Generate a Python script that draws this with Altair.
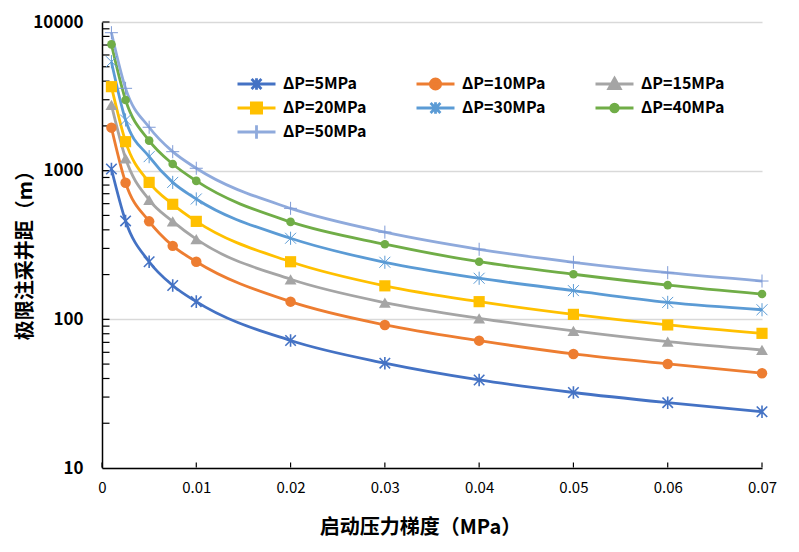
import altair as alt
import pandas as pd

# ---------------- data ----------------
x_vals = [0.001, 0.0025, 0.005, 0.0075, 0.01, 0.02, 0.03, 0.04, 0.05, 0.06, 0.07]
series_names = ["ΔP=5MPa", "ΔP=10MPa", "ΔP=15MPa", "ΔP=20MPa",
                "ΔP=30MPa", "ΔP=40MPa", "ΔP=50MPa"]
dp5 = [1026, 459, 244, 169, 131.5, 72, 50.7, 39.1, 32.2, 27.5, 23.9]
dp10 = [1947, 830, 456, 312, 244, 131.5, 91.7, 71.9, 58.5, 50.1, 43.4]
dp15 = [2770, 1211, 636, 456, 346, 186, 129.6, 101.6, 83.6, 70.8, 62.2]
dp20 = [3673, 1567, 834, 594, 456, 244, 168, 131.5, 108, 91.7, 80.5]
dp30 = [5410, 2193, 1242, 834, 645, 351, 242, 189, 156, 130, 116]
dp40 = [7073, 2988, 1592, 1109, 853, 452, 320, 244, 201, 170, 148]
dp50 = [8474, 3580, 1959, 1342, 1038, 558, 386, 296, 242, 206, 181]
all_series = [dp5, dp10, dp15, dp20, dp30, dp40, dp50]

x_ticks = [0, 0.01, 0.02, 0.03, 0.04, 0.05, 0.06, 0.07]
y_major = [10, 100, 1000, 10000]
y_minor = [20, 30, 40, 50, 60, 70, 80, 90,
           100, 200, 300, 400, 500, 600, 700, 800, 900,
           1000, 2000, 3000, 4000, 5000, 6000, 7000, 8000, 9000, 10000]

x_title = "启动压力梯度（MPa）"
y_title = "极限注采井距（m）"

# ---------------- styles ----------------
colors = ["#4472C4", "#ED7D31", "#A5A5A5", "#FFC000", "#5B9BD5", "#70AD47", "#8FAADC"]
marker_colors = ["#4472C4", "#ED7D31", "#A5A5A5", "#FFC000", "#5B9BD5", "#70AD47", "#7F9BD6"]
STAR = "M-1,-1L1,1M-1,1L1,-1M0,-1.2V1.2"
PLUS = "M-1,0H1M0,-1V1"
# (shape, filled, size, strokeWidth)
marker_specs = [
    (STAR, False, 110, 1.6),
    ("circle", True, 110, 0),
    ("triangle-up", True, 140, 0),
    ("square", True, 125, 0),
    (STAR, False, 120, 1.0),
    ("circle", True, 75, 0),
    (PLUS, False, 170, 1.0),
]
legend_paths = [
    "M-1,0H1M-0.26,-0.26L0.26,0.26M-0.26,0.26L0.26,-0.26M0,-0.3V0.3",
    "M-1,0H1M-0.27,0A0.27,0.27 0 1,0 0.27,0A0.27,0.27 0 1,0 -0.27,0Z",
    "M-1,0H1M0,-0.3L0.3,0.24L-0.3,0.24Z",
    "M-1,0H1M-0.27,-0.27H0.27V0.27H-0.27Z",
    "M-1,0H1M-0.26,-0.26L0.26,0.26M-0.26,0.26L0.26,-0.26M0,-0.3V0.3",
    "M-1,0H1M-0.2,0A0.2,0.2 0 1,0 0.2,0A0.2,0.2 0 1,0 -0.2,0Z",
    "M-1,0H1M0,-0.35V0.35",
]

FONT = "Noto Sans CJK SC"

rows = []
for name, vals in zip(series_names, all_series):
    for xv, v in zip(x_vals, vals):
        rows.append({"series": name, "x": xv, "v": v})
df = pd.DataFrame(rows)
ytick_df = pd.DataFrame({"v": y_minor})
xtick_df = pd.DataFrame({"x": x_ticks})

xscale = alt.Scale(domain=[0, 0.07], nice=False, zero=False)
yscale = alt.Scale(type="log", domain=[10, 10000], nice=False)
color_scale = alt.Scale(domain=series_names, range=colors)

main_x_axis = alt.Axis(
    values=x_ticks, format=".2~f", ticks=False, grid=False,
    domainColor="black", domainWidth=1.5, labelFlush=False, labelOverlap=False,
    labelFont=FONT, labelFontSize=15, labelColor="black", labelPadding=12,
    title=x_title, titleFont=FONT, titleFontSize=20, titleFontWeight="bold",
    titleColor="black", titleX=318, titleY=59, titleBaseline="middle", titleAlign="center",
)
main_y_axis = alt.Axis(
    values=y_major, format="d", ticks=False, grid=True, gridColor="#D9D9D9", gridWidth=1.6,
    domainColor="black", domainWidth=1.5, labelFlush=False, labelOverlap=False,
    labelFont=FONT, labelFontSize=17, labelFontWeight="bold", labelColor="black", labelPadding=19,
    title=y_title, titleFont=FONT, titleFontSize=20, titleFontWeight="bold",
    titleColor="black", titleX=-77, titleY=228, titleAngle=270,
    titleBaseline="middle", titleAlign="center",
)

legend_def = alt.Legend(
    title=None, orient="none", legendX=134, legendY=52, columns=3,
    columnPadding=48, rowPadding=4, clipHeight=20, symbolSize=1444,
    symbolStrokeWidth=2.8, labelFont=FONT, labelFontSize=16, labelFontWeight="bold",
    labelColor="black", labelOffset=6, gridAlign="all", padding=0,
    symbolOpacity=1, labelLimit=300, values=series_names, direction="horizontal",
)

base = alt.Chart(df)

line = base.mark_line(interpolate="monotone", strokeWidth=2.8).encode(
    x=alt.X("x:Q", scale=xscale, axis=main_x_axis),
    y=alt.Y("v:Q", scale=yscale, axis=main_y_axis),
    color=alt.Color("series:N", scale=color_scale, legend=legend_def),
)

# inward tick marks, drawn through the scales and nudged inside the plot
ytick_layer = alt.Chart(ytick_df).mark_tick(
    orient="horizontal", size=7, thickness=1.2, color="black", opacity=1, xOffset=4
).encode(
    x=alt.X(datum=0, scale=xscale),
    y=alt.Y("v:Q", scale=yscale),
)
xtick_layer = alt.Chart(xtick_df).mark_tick(
    orient="vertical", size=5, thickness=1.2, color="black", opacity=1, yOffset=-3
).encode(
    x=alt.X("x:Q", scale=xscale),
    y=alt.Y(datum=10, scale=yscale),
)

pts = []
for name, col, (shape, filled, size, sw) in zip(series_names, marker_colors, marker_specs):
    pts.append(
        base.transform_filter(alt.datum.series == name)
        .mark_point(shape=shape, filled=filled, size=size, color=col,
                    strokeWidth=sw, opacity=1)
        .encode(x=alt.X("x:Q", scale=xscale),
                y=alt.Y("v:Q", scale=yscale))
    )

legend_layer = base.mark_point(filled=True, opacity=0).encode(
    x=alt.X("x:Q", scale=xscale),
    y=alt.Y("v:Q", scale=yscale),
    color=alt.Color("series:N", scale=color_scale, legend=legend_def),
    stroke=alt.Stroke("series:N", scale=alt.Scale(domain=series_names, range=colors),
                      legend=legend_def),
    shape=alt.Shape("series:N", scale=alt.Scale(domain=series_names, range=legend_paths),
                    legend=legend_def),
)

chart = (
    alt.layer(line, ytick_layer, xtick_layer, *pts, legend_layer)
    .properties(
        width=660, height=446,
        autosize=alt.AutoSizeParams(type="none"),
        padding={"left": 94, "top": 14, "right": 29, "bottom": 76},
        background="white",
    )
    .configure_view(stroke=None)
)

chart.save("out.html", embed_options={"renderer": "svg", "actions": False})
